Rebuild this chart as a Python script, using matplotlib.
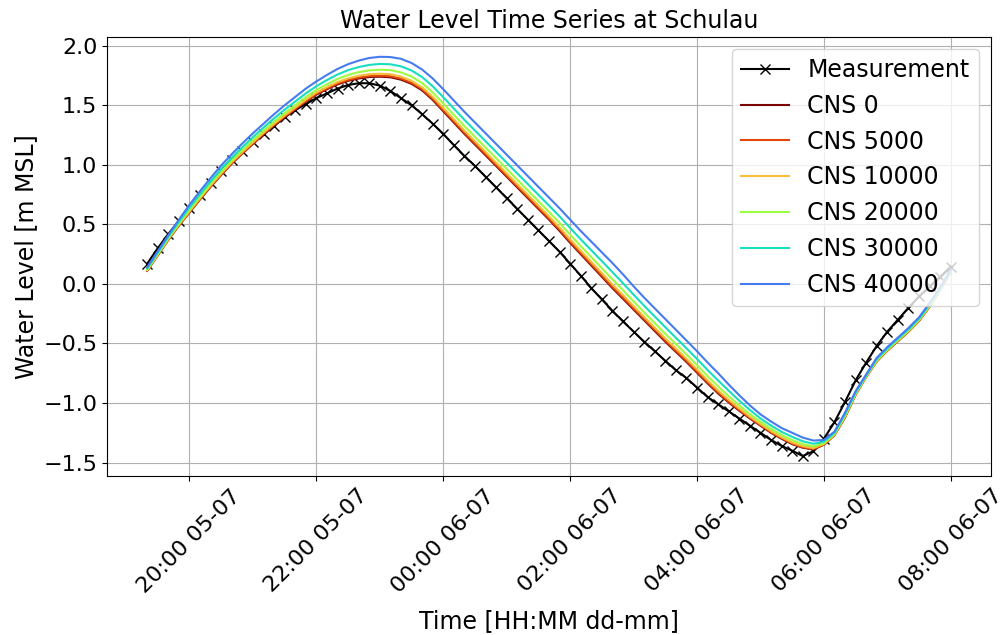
import matplotlib
matplotlib.use("Agg")
import matplotlib.pyplot as plt
import matplotlib.dates as mdates
import pandas as pd

plt.rcParams['font.size'] = 16
plt.rcParams['font.family'] = ['DejaVu Sans']

start_time = "2023-07-05 19:20"
end_time = "2023-07-06 08:00"
step = "10min"

measurement = [
    0.17, 0.30, 0.42, 0.53, 0.64, 0.75, 0.85, 0.95, 1.04, 1.12,
    1.19, 1.26, 1.33, 1.40, 1.46, 1.51, 1.56, 1.60, 1.64, 1.67,
    1.685, 1.685, 1.665, 1.62, 1.56, 1.50, 1.425, 1.345, 1.26, 1.165,
    1.075, 0.99, 0.90, 0.81, 0.72, 0.63, 0.54, 0.45, 0.36, 0.27,
    0.17, 0.07, -0.035, -0.13, -0.225, -0.315, -0.40, -0.485, -0.565, -0.645,
    -0.725, -0.79, -0.87, -0.95, -1.01, -1.07, -1.13, -1.19, -1.25, -1.31,
    -1.36, -1.40, -1.445, -1.405, -1.30, -1.16, -0.99, -0.81, -0.66, -0.52,
    -0.40, -0.30, -0.20, -0.105, -0.02, 0.06, 0.145,
]

cns_0 = [
    0.11, 0.24, 0.37, 0.49, 0.60, 0.71, 0.815, 0.915, 1.01, 1.095,
    1.175, 1.255, 1.33, 1.40, 1.465, 1.53, 1.59, 1.635, 1.675, 1.705,
    1.725, 1.737, 1.74, 1.735, 1.715, 1.68, 1.625, 1.545, 1.45, 1.355,
    1.26, 1.17, 1.08, 0.99, 0.90, 0.81, 0.72, 0.63, 0.54, 0.445,
    0.345, 0.25, 0.155, 0.06, -0.035, -0.125, -0.215, -0.305, -0.395, -0.485,
    -0.57, -0.655, -0.745, -0.835, -0.92, -0.995, -1.065, -1.13, -1.19, -1.25,
    -1.30, -1.345, -1.375, -1.39, -1.35, -1.27, -1.12, -0.93, -0.78, -0.65,
    -0.56, -0.48, -0.40, -0.31, -0.19, -0.05, 0.10,
]

cns_5000 = [
    0.112, 0.242, 0.372, 0.492, 0.603, 0.713, 0.819, 0.919, 1.014, 1.099,
    1.18, 1.26, 1.335, 1.405, 1.47, 1.536, 1.596, 1.641, 1.682, 1.712,
    1.733, 1.745, 1.748, 1.744, 1.724, 1.689, 1.634, 1.554, 1.459, 1.364,
    1.269, 1.179, 1.089, 0.999, 0.909, 0.819, 0.729, 0.639, 0.549, 0.455,
    0.355, 0.26, 0.165, 0.07, -0.025, -0.115, -0.205, -0.295, -0.385, -0.475,
    -0.561, -0.646, -0.736, -0.826, -0.912, -0.988, -1.059, -1.125, -1.185, -1.245,
    -1.296, -1.34, -1.371, -1.386, -1.348, -1.269, -1.118, -0.929, -0.779, -0.649,
    -0.559, -0.479, -0.399, -0.309, -0.189, -0.049, 0.101,
]

cns_10000 = [
    0.115, 0.245, 0.376, 0.497, 0.61, 0.72, 0.826, 0.927, 1.022, 1.108,
    1.189, 1.269, 1.344, 1.415, 1.481, 1.547, 1.607, 1.653, 1.695, 1.726,
    1.748, 1.761, 1.765, 1.761, 1.741, 1.706, 1.651, 1.572, 1.478, 1.383,
    1.288, 1.198, 1.108, 1.018, 0.928, 0.838, 0.748, 0.658, 0.568, 0.474,
    0.374, 0.279, 0.185, 0.091, -0.004, -0.094, -0.186, -0.277, -0.367, -0.457,
    -0.542, -0.628, -0.718, -0.809, -0.895, -0.973, -1.046, -1.114, -1.176, -1.236,
    -1.287, -1.331, -1.362, -1.379, -1.344, -1.266, -1.114, -0.926, -0.777, -0.646,
    -0.556, -0.476, -0.396, -0.306, -0.186, -0.047, 0.103,
]

cns_20000 = [
    0.12, 0.252, 0.384, 0.507, 0.623, 0.734, 0.841, 0.943, 1.038, 1.125,
    1.207, 1.287, 1.363, 1.435, 1.502, 1.569, 1.629, 1.677, 1.721, 1.754,
    1.778, 1.793, 1.798, 1.795, 1.776, 1.741, 1.686, 1.608, 1.515, 1.42,
    1.325, 1.235, 1.145, 1.055, 0.965, 0.875, 0.785, 0.695, 0.605, 0.512,
    0.413, 0.318, 0.225, 0.132, 0.039, -0.053, -0.147, -0.239, -0.329, -0.419,
    -0.505, -0.592, -0.682, -0.774, -0.861, -0.944, -1.021, -1.093, -1.157, -1.217,
    -1.269, -1.312, -1.345, -1.364, -1.336, -1.26, -1.106, -0.92, -0.773, -0.64,
    -0.55, -0.47, -0.39, -0.30, -0.18, -0.043, 0.107,
]

cns_30000 = [
    0.13, 0.262, 0.396, 0.522, 0.642, 0.755, 0.863, 0.966, 1.061, 1.149,
    1.233, 1.313, 1.391, 1.464, 1.532, 1.60, 1.66, 1.712, 1.758, 1.795,
    1.821, 1.839, 1.847, 1.844, 1.827, 1.792, 1.737, 1.66, 1.568, 1.473,
    1.378, 1.288, 1.198, 1.108, 1.018, 0.928, 0.838, 0.748, 0.658, 0.567,
    0.47, 0.375, 0.283, 0.191, 0.099, 0.006, -0.09, -0.183, -0.273, -0.363,
    -0.452, -0.54, -0.63, -0.723, -0.811, -0.897, -0.98, -1.058, -1.129, -1.189,
    -1.242, -1.284, -1.321, -1.342, -1.324, -1.251, -1.094, -0.911, -0.767, -0.631,
    -0.541, -0.461, -0.381, -0.291, -0.171, -0.037, 0.113,
]

cns_40000 = [
    0.14, 0.275, 0.41, 0.54, 0.665, 0.78, 0.89, 0.995, 1.09, 1.18,
    1.265, 1.345, 1.425, 1.50, 1.57, 1.64, 1.70, 1.755, 1.805, 1.845,
    1.875, 1.897, 1.907, 1.905, 1.89, 1.855, 1.80, 1.725, 1.635, 1.54,
    1.445, 1.355, 1.265, 1.175, 1.085, 0.995, 0.905, 0.815, 0.725, 0.635,
    0.54, 0.445, 0.355, 0.265, 0.175, 0.08, -0.02, -0.115, -0.205, -0.295,
    -0.385, -0.475, -0.565, -0.66, -0.75, -0.845, -0.935, -1.02, -1.095, -1.155,
    -1.21, -1.25, -1.29, -1.315, -1.31, -1.24, -1.08, -0.90, -0.76, -0.62,
    -0.53, -0.45, -0.37, -0.28, -0.16, -0.03, 0.12,
]

series_labels = ["CNS 0", "CNS 5000", "CNS 10000", "CNS 20000", "CNS 30000", "CNS 40000"]
color_positions = [1.0, 0.83, 0.66, 0.49, 0.32, 0.15]

times = pd.date_range(start_time, end_time, freq=step)

fig = plt.figure(figsize=(10.03, 6.35), dpi=100)
ax = fig.add_axes([0.1067, 0.2504, 0.8813, 0.6916])

ax.plot(times, measurement, color="black", marker="x", markersize=7,
        linewidth=1.5, label="Measurement")
cmap = plt.get_cmap("turbo")
for vals, lab, cp in zip([cns_0, cns_5000, cns_10000, cns_20000, cns_30000, cns_40000],
                         series_labels, color_positions):
    ax.plot(times, vals, color=cmap(cp), linewidth=1.5, label=lab)

ax.xaxis.set_major_locator(mdates.HourLocator(byhour=range(0, 24, 2)))
ax.xaxis.set_major_formatter(mdates.DateFormatter("%H:%M %d-%m"))
for lbl in ax.get_xticklabels():
    lbl.set_rotation(45)

ax.grid(True)
ax.set_title("Water Level Time Series at Schulau", fontsize=17)
ax.set_xlabel("Time [HH:MM dd-mm]", fontsize=17, labelpad=9)
ax.set_ylabel("Water Level [m MSL]", fontsize=17)
ax.legend(loc="upper right", fontsize=17)

fig.savefig("out.png", dpi=100)
